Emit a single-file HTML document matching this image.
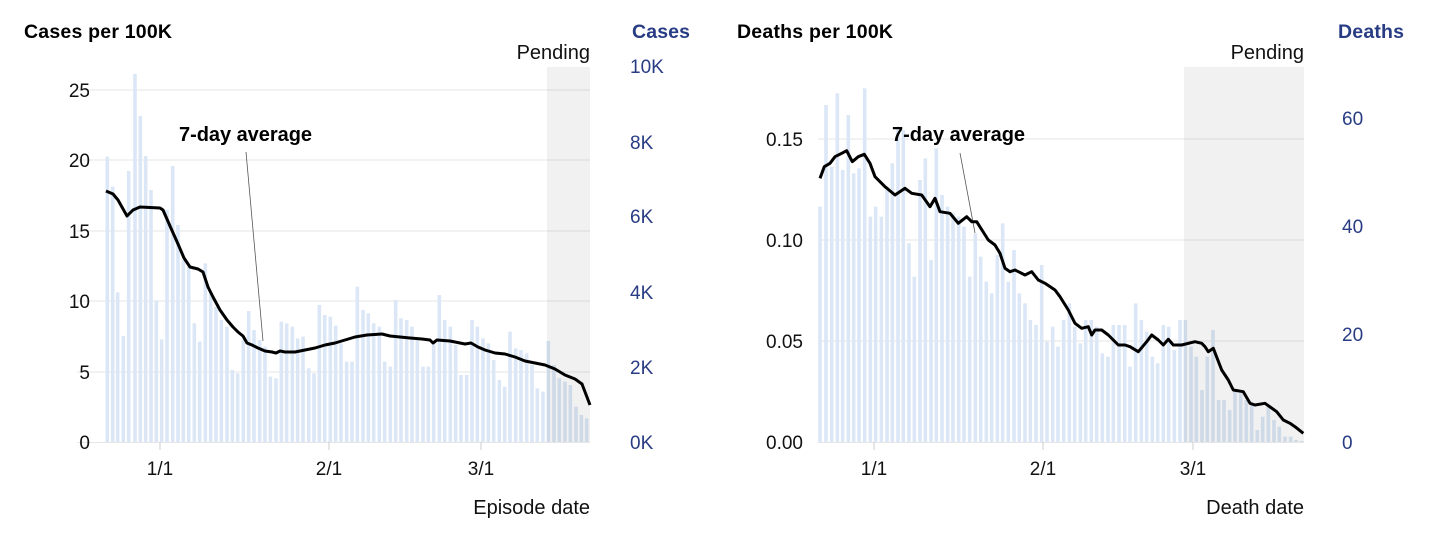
<!DOCTYPE html>
<html><head><meta charset="utf-8"><style>
html,body{margin:0;padding:0;background:#fff;width:1430px;height:537px;overflow:hidden}
svg{display:block}
text{font-family:"Liberation Sans",Arial,sans-serif}
</style></head><body>
<svg id="s" width="1430" height="537" xmlns="http://www.w3.org/2000/svg">
<g id="bg"></g>
<!-- Left chart -->
<text x="24" y="38" font-size="19.5" font-weight="bold" fill="#000" textLength="148">Cases per 100K</text>
<text x="632" y="38" font-size="19.5" font-weight="bold" fill="#283c84" textLength="58">Cases</text>
<text x="590" y="59" font-size="20" text-anchor="end" fill="#111">Pending</text>
<g font-size="19" fill="#111" text-anchor="end">
<text x="90" y="97">25</text><text x="90" y="167">20</text><text x="90" y="238">15</text>
<text x="90" y="308">10</text><text x="90" y="379">5</text><text x="90" y="449">0</text>
</g>
<g font-size="19" fill="#283c84">
<text x="630" y="73">10K</text><text x="630" y="149">8K</text><text x="630" y="223">6K</text>
<text x="630" y="299">4K</text><text x="630" y="374">2K</text><text x="630" y="449">0K</text>
</g>
<g font-size="19" fill="#111" text-anchor="middle">
<text x="160" y="475">1/1</text><text x="329" y="475">2/1</text><text x="481" y="475">3/1</text>
</g>
<text x="590" y="514" font-size="20" text-anchor="end" fill="#111">Episode date</text>
<text x="179" y="141" font-size="20" font-weight="bold" fill="#000" textLength="133">7-day average</text>
<line x1="246" y1="152" x2="263" y2="341" stroke="#555" stroke-width="0.8"/>
<!-- Right chart -->
<text x="737" y="38" font-size="19.5" font-weight="bold" fill="#000" textLength="156">Deaths per 100K</text>
<text x="1338" y="38" font-size="19.5" font-weight="bold" fill="#283c84" textLength="66">Deaths</text>
<text x="1304" y="59" font-size="20" text-anchor="end" fill="#111">Pending</text>
<g font-size="19" fill="#111" text-anchor="end">
<text x="803" y="146">0.15</text><text x="803" y="247">0.10</text><text x="803" y="348">0.05</text><text x="803" y="449">0.00</text>
</g>
<g font-size="19" fill="#283c84">
<text x="1342" y="125">60</text><text x="1342" y="233">40</text><text x="1342" y="341">20</text><text x="1342" y="449">0</text>
</g>
<g font-size="19" fill="#111" text-anchor="middle">
<text x="874" y="475">1/1</text><text x="1043" y="475">2/1</text><text x="1193" y="475">3/1</text>
</g>
<text x="1304" y="514" font-size="20" text-anchor="end" fill="#111">Death date</text>
<text x="892" y="141" font-size="20" font-weight="bold" fill="#000" textLength="133">7-day average</text>
<line x1="960" y1="153" x2="975" y2="233" stroke="#555" stroke-width="0.8"/>
<g id="fg"></g>
</svg>
<script>
var NS="http://www.w3.org/2000/svg",bg=document.getElementById('bg'),fg=document.getElementById('fg');
function el(p,t,a){var e=document.createElementNS(NS,t);for(var k in a)e.setAttribute(k,a[k]);p.appendChild(e);return e;}
[90,160,231,301,372].forEach(function(y){el(bg,'line',{x1:77,x2:590,y1:y,y2:y,stroke:'#e6e6e6','stroke-width':1});});
[139,240,341].forEach(function(y){el(bg,'line',{x1:818,x2:1304,y1:y,y2:y,stroke:'#e6e6e6','stroke-width':1});});
el(bg,'line',{x1:77,x2:590,y1:442.5,y2:442.5,stroke:'#e6e6e6'});
el(bg,'line',{x1:818,x2:1304,y1:442.5,y2:442.5,stroke:'#e6e6e6'});
var L=[[22,290],[38,380],[53,697],[70,828],[86,333],[105,42],[121,168],[137,288],[153,390],[169,722],[185,838],[201,450],[218,318],[234,495],[250,600],[266,620],[283,790],[299,845],[316,610],[332,700],[348,740],[364,780],[381,800],[397,930],[413,940],[430,840],[446,753],[462,810],[479,840],[495,860],[511,950],[528,955],[544,785],[560,790],[577,800],[593,835],[609,830],[626,925],[642,940],[658,735],[674,765],[691,770],[707,797],[723,850],[740,905],[756,905],[772,680],[789,750],[805,760],[821,790],[838,800],[854,905],[871,920],[887,720],[903,775],[920,780],[936,800],[952,835],[969,920],[985,920],[1001,845],[1018,705],[1034,780],[1051,800],[1067,855],[1083,945],[1100,945],[1116,780],[1132,800],[1149,835],[1165,850],[1181,900],[1198,960],[1214,980],[1230,815],[1247,865],[1263,870],[1280,880],[1296,915],[1312,985],[1329,995],[1345,843],[1362,915],[1378,955],[1395,965],[1411,975],[1428,1040],[1444,1065],[1460,1075]];
L.forEach(function(b){var x=100+b[0]/3,y=60+b[1]/3;el(bg,'rect',{x:x-1.8,y:y,width:3.6,height:442-y,fill:'#dbe7f6'});});
var R=[[15,440],[33,135],[50,320],[67,100],[83,330],[100,165],[116,340],[132,325],[149,85],[166,470],[182,440],[199,470],[216,390],[232,310],[249,200],[265,210],[282,550],[298,650],[315,360],[331,295],[348,600],[364,265],[381,405],[398,440],[414,460],[431,470],[447,500],[464,650],[481,520],[497,590],[514,665],[530,700],[547,585],[563,490],[580,665],[597,570],[613,700],[630,730],[646,780],[663,795],[680,615],[696,845],[713,800],[729,860],[746,780],[763,730],[779,800],[796,850],[812,780],[829,780],[845,800],[862,880],[879,890],[895,795],[912,795],[929,795],[945,920],[962,730],[979,780],[995,815],[1012,890],[1028,910],[1045,795],[1061,800],[1078,870],[1095,780],[1111,780],[1128,860],[1144,890],[1161,990],[1177,890],[1194,810],[1211,1020],[1227,1020],[1244,1050],[1260,990],[1277,1000],[1294,1020],[1310,1030],[1327,1110],[1343,1070],[1360,1040],[1377,1080],[1393,1100],[1410,1130],[1427,1130],[1443,1140],[1460,1145]];
R.forEach(function(b){var x=815+b[0]/3,y=60+b[1]/3;if(y>441)y=441;el(bg,'rect',{x:x-1.8,y:y,width:3.6,height:442-y,fill:'#dbe7f6'});});
el(bg,'rect',{x:547,y:67,width:43,height:375,fill:'rgba(0,0,0,0.055)'});
el(bg,'rect',{x:1184,y:67,width:120,height:375,fill:'rgba(0,0,0,0.055)'});
[160,329,481,874,1043,1193].forEach(function(x){el(bg,'line',{x1:x,x2:x,y1:442,y2:450,stroke:'#ccc'});});
var LL="106,191 113,194 118,200 127,216 133,210 140,207 160,208 163,210 170,226 178,244 184,258 190,267 198,269 203,272 208,287 213,297 220,310 227,320 233,327 238,332 243,336 247,343 252,345 258,348 265,351 272,352 276,353 280,351 285,352 295,352 305,350 315,348 325,345 335,343 345,340 355,337 367,335 382,334 390,336 400,337 410,338 422,339 430,340 433,343 437,340 450,341 465,344 471,343 478,347 485,350 495,353 505,354 515,357 525,361 535,363 545,365 555,369 565,375 575,379 582,384 590,405";
el(fg,'polyline',{points:LL,fill:'none',stroke:'#000','stroke-width':3,'stroke-linejoin':'round'});
var zx=[15,28,45,60,80,95,112,130,148,165,180,210,240,270,290,320,345,360,375,405,430,455,470,485,520,540,555,570,585,600,630,650,670,690,720,735,760,780,800,820,830,840,860,880,910,930,945,970,995,1010,1030,1045,1060,1075,1100,1140,1160,1170,1180,1195,1220,1240,1255,1285,1305,1320,1350,1385,1405,1425,1440,1465];
var zy=[355,320,310,290,280,272,305,290,283,310,350,380,405,385,400,405,440,415,455,460,490,470,485,485,540,555,580,625,635,630,645,635,660,670,690,710,750,790,805,800,825,810,810,825,855,855,860,875,845,825,840,855,838,855,855,845,850,860,875,865,930,960,990,995,1030,1035,1030,1055,1080,1090,1100,1120];
var pts=zx.map(function(x,i){return (815+x/3).toFixed(1)+','+(60+zy[i]/3).toFixed(1);}).join(' ');
el(fg,'polyline',{points:pts,fill:'none',stroke:'#000','stroke-width':3,'stroke-linejoin':'round'});
</script>
</body></html>
